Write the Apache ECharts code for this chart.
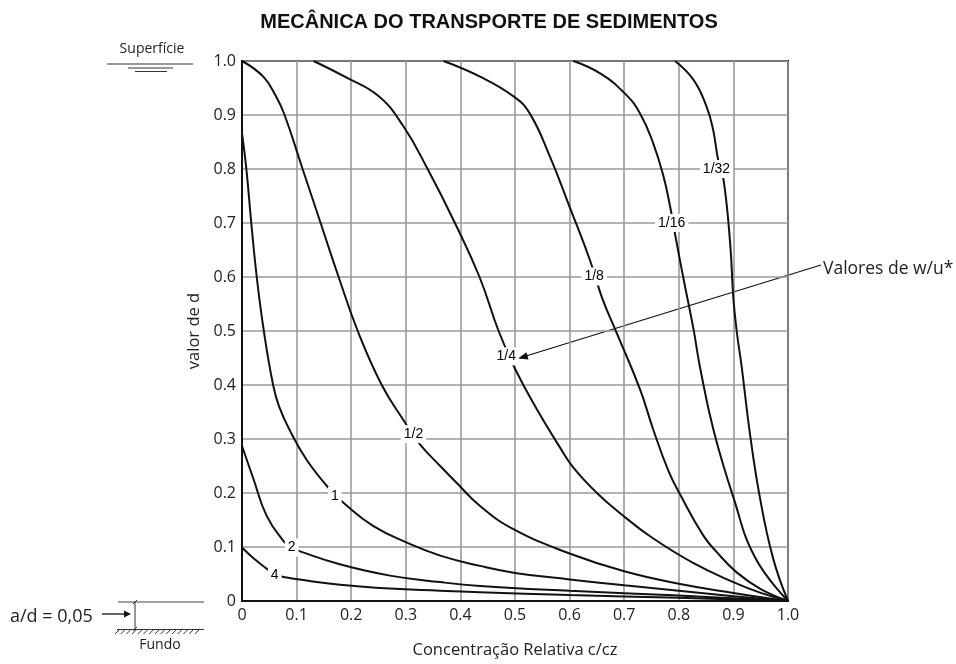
<!DOCTYPE html>
<html>
<head>
<meta charset="utf-8">
<script src="https://cdn.jsdelivr.net/npm/echarts@6/dist/echarts.min.js"></script>
<style>
  html, body { margin: 0; padding: 0; background: #fff; }
  #main { width: 956px; height: 664px; }
</style>
</head>
<body>
<div id="main"></div>
<script>
// curvas de concentração relativa (x = c/cz, y = valor de d)
var w4 = [[0, 0.099], [0.02, 0.08], [0.04, 0.064], [0.06, 0.05], [0.079, 0.044], [0.118, 0.038], [0.18, 0.03],
  [0.271, 0.023], [0.363, 0.019], [0.436, 0.016], [0.6, 0.011], [0.8, 0.006], [1, 0]];
var w2 = [[0, 0.287], [0.021, 0.226], [0.045, 0.158], [0.076, 0.111], [0.091, 0.099], [0.109, 0.091],
  [0.179, 0.068], [0.271, 0.047], [0.363, 0.035], [0.436, 0.028], [0.6, 0.019], [0.8, 0.01], [1, 0]];
var w1 = [[0, 0.866], [0.008, 0.8], [0.017, 0.7], [0.027, 0.6], [0.04, 0.5], [0.057, 0.4], [0.068, 0.36],
  [0.088, 0.315], [0.118, 0.262], [0.158, 0.21], [0.189, 0.179], [0.24, 0.139], [0.302, 0.108],
  [0.363, 0.084], [0.436, 0.065], [0.5, 0.052], [0.6, 0.04], [0.7, 0.029], [0.8, 0.019], [0.9, 0.009], [1, 0]];
var w1_2 = [[0, 1], [0.039, 0.971], [0.062, 0.935], [0.078, 0.9], [0.111, 0.8], [0.144, 0.7], [0.177, 0.6],
  [0.212, 0.5], [0.256, 0.4], [0.295, 0.336], [0.326, 0.29], [0.363, 0.25], [0.393, 0.219], [0.436, 0.176],
  [0.497, 0.133], [0.6, 0.088], [0.7, 0.055], [0.8, 0.032], [0.9, 0.015], [1, 0]];
var w1_4 = [[0.131, 1], [0.19, 0.97], [0.25, 0.935], [0.295, 0.88], [0.34, 0.8], [0.39, 0.7], [0.435, 0.6],
  [0.47, 0.5], [0.5, 0.43], [0.54, 0.355], [0.582, 0.285], [0.607, 0.247], [0.65, 0.2],
  [0.692, 0.163], [0.75, 0.118], [0.827, 0.07], [0.9, 0.035], [0.95, 0.015], [1, 0]];
var w1_8 = [[0.369, 1], [0.436, 0.971], [0.498, 0.934], [0.527, 0.903], [0.564, 0.823], [0.6, 0.73],
  [0.637, 0.632], [0.66, 0.56], [0.686, 0.497], [0.729, 0.392], [0.753, 0.318],
  [0.781, 0.241], [0.802, 0.198], [0.845, 0.121], [0.87, 0.09], [0.906, 0.053], [0.95, 0.022], [1, 0]];
var w1_16 = [[0.607, 1], [0.656, 0.977], [0.701, 0.94], [0.729, 0.903], [0.753, 0.848], [0.772, 0.786],
  [0.784, 0.731], [0.793, 0.68], [0.808, 0.6], [0.827, 0.503], [0.839, 0.432], [0.864, 0.315],
  [0.9, 0.192], [0.94, 0.08], [1, 0]];
var w1_32 = [[0.793, 1], [0.827, 0.965], [0.851, 0.915], [0.863, 0.872], [0.872, 0.817],
  [0.882, 0.78], [0.894, 0.663], [0.9, 0.56], [0.906, 0.5], [0.915, 0.435], [0.93, 0.312], [0.949, 0.189],
  [0.973, 0.078], [1, 0]];

var curves = [w4, w2, w1, w1_2, w1_4, w1_8, w1_16, w1_32];
// rótulos w/u* e onde ficam sobre cada curva
var labelNames = ['4', '2', '1', '1/2', '1/4', '1/8', '1/16', '1/32'];
var labelAt = [[0.06, 0.048], [0.091, 0.099], [0.17, 0.195], [0.314, 0.309], [0.484, 0.453],
  [0.645, 0.601], [0.787, 0.7], [0.869, 0.8]];

var chart = echarts.init(document.getElementById('main'));

var series = curves.map(function (c, i) {
  return {
    name: labelNames[i],
    type: 'line',
    data: c,
    smooth: 0.45,
    showSymbol: false,
    silent: true,
    lineStyle: { color: '#111', width: 2 },
    z: 3
  };
});

series.push({
  type: 'scatter',
  symbol: 'rect',
  symbolSize: 1,
  silent: true,
  itemStyle: { color: 'rgba(0,0,0,0)' },
  z: 10,
  data: labelAt.map(function (p, i) {
    return { value: p, name: labelNames[i] };
  }),
  label: {
    show: true,
    position: 'inside',
    formatter: '{b}',
    fontFamily: 'Liberation Sans',
    fontSize: 14,
    color: '#000',
    textBorderWidth: 0,
    opacity: 1,
    backgroundColor: '#fff',
    padding: [2, 3]
  }
});

function tick(v) { return v === 0 ? '0' : v.toFixed(1); }

var hatch = [];
for (var k = 0; k < 15; k++) {
  hatch.push({ type: 'line', shape: { x1: 119 + k * 5.7, y1: 630, x2: 115 + k * 5.7, y2: 634 },
    style: { stroke: '#333', lineWidth: 1 } });
}

var option = {
  backgroundColor: '#fff',
  animation: false,
  title: {
    text: 'MECÂNICA DO TRANSPORTE DE SEDIMENTOS',
    left: 484, top: 7, textAlign: 'center',
    textStyle: { fontFamily: 'Liberation Sans', fontWeight: 'bold', fontSize: 20, color: '#111' }
  },
  grid: { left: 242, right: 168, top: 61, bottom: 62, show: true, borderColor: '#111', borderWidth: 2 },
  xAxis: {
    type: 'value', min: 0, max: 1, interval: 0.1,
    name: 'Concentração Relativa c/cz', nameLocation: 'middle', nameGap: 41,
    nameTextStyle: { fontFamily: 'Open Sans', fontSize: 16.5, color: '#222' },
    axisLine: { show: true, lineStyle: { color: '#111', width: 2 } },
    axisTick: { show: false },
    axisLabel: { formatter: tick, fontFamily: 'Open Sans', fontSize: 16, color: '#222', margin: 6 },
    splitLine: { show: true, lineStyle: { color: '#9a9a9a', width: 1.6 } }
  },
  yAxis: {
    type: 'value', min: 0, max: 1, interval: 0.1,
    name: 'valor de d', nameLocation: 'middle', nameGap: 34,
    nameTextStyle: { fontFamily: 'Open Sans', fontSize: 16.5, color: '#222' },
    axisLine: { show: true, lineStyle: { color: '#111', width: 2 } },
    axisTick: { show: false },
    axisLabel: { formatter: tick, fontFamily: 'Open Sans', fontSize: 16, color: '#222', margin: 6 },
    splitLine: { show: true, lineStyle: { color: '#9a9a9a', width: 1.6 } }
  },
  graphic: [
    // superfície
    { type: 'text', style: { text: 'Superfície', x: 152, y: 49, align: 'center', verticalAlign: 'middle',
        font: '14px "Open Sans"', fill: '#222' } },
    { type: 'line', shape: { x1: 107, y1: 64, x2: 193, y2: 64 }, style: { stroke: '#333', lineWidth: 1 } },
    { type: 'line', shape: { x1: 128, y1: 68, x2: 173, y2: 68 }, style: { stroke: '#333', lineWidth: 1 } },
    { type: 'line', shape: { x1: 135, y1: 71.5, x2: 167, y2: 71.5 }, style: { stroke: '#333', lineWidth: 1 } },
    // fundo
    { type: 'text', style: { text: 'a/d = 0,05', x: 10, y: 617, verticalAlign: 'middle',
        font: '18px "Open Sans"', fill: '#222' } },
    { type: 'line', shape: { x1: 102, y1: 614, x2: 126, y2: 614 }, style: { stroke: '#111', lineWidth: 1.3 } },
    { type: 'polygon', shape: { points: [[131, 614], [124, 610.5], [124, 617.5]] }, style: { fill: '#111' } },
    { type: 'line', shape: { x1: 118, y1: 602, x2: 204, y2: 602 }, style: { stroke: '#444', lineWidth: 1 } },
    { type: 'line', shape: { x1: 135, y1: 602, x2: 135, y2: 629 }, style: { stroke: '#333', lineWidth: 1 } },
    { type: 'line', shape: { x1: 133, y1: 604, x2: 137, y2: 600 }, style: { stroke: '#333', lineWidth: 1 } },
    { type: 'line', shape: { x1: 133, y1: 631, x2: 137, y2: 627 }, style: { stroke: '#333', lineWidth: 1 } },
    { type: 'line', shape: { x1: 117, y1: 629.5, x2: 204, y2: 629.5 }, style: { stroke: '#333', lineWidth: 1 } }
  ].concat(hatch).concat([
    { type: 'text', style: { text: 'Fundo', x: 160, y: 645, align: 'center', verticalAlign: 'middle',
        font: '14px "Open Sans"', fill: '#222' } },
    // valores de w/u*
    { type: 'text', style: { text: 'Valores de w/u*', x: 823, y: 269, verticalAlign: 'middle',
        font: '17.5px "Open Sans"', fill: '#222' } },
    { type: 'line', shape: { x1: 821, y1: 265, x2: 526, y2: 356 }, style: { stroke: '#111', lineWidth: 1.2 } },
    { type: 'polygon', shape: { points: [[518, 358.5], [526.5, 352.2], [528.5, 359.5]] }, style: { fill: '#111' } }
  ]),
  series: series
};

chart.setOption(option);
</script>
</body>
</html>
